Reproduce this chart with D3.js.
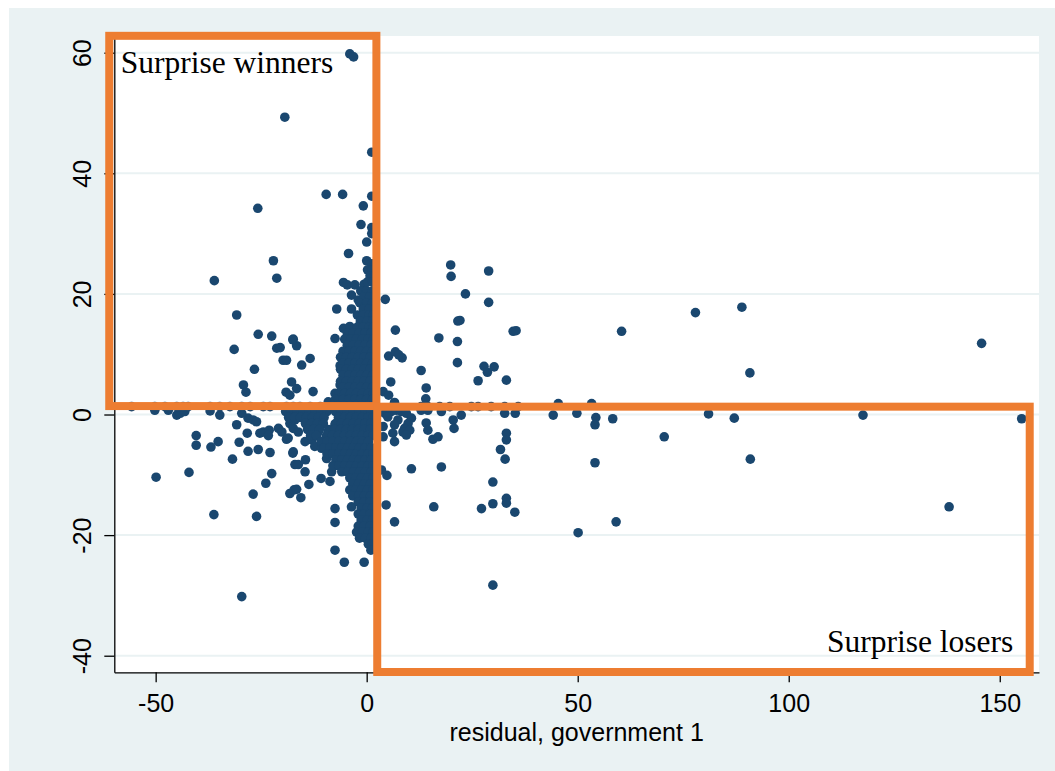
<!DOCTYPE html>
<html>
<head>
<meta charset="utf-8">
<script src="https://cdn.jsdelivr.net/npm/d3@7"></script>
<style>
    body { margin: 0; background: #fff; }
</style>
</head>
<body>
<div id="scatter"></div>
<script>

// ticks
var xTicks = [-50, 0, 50, 100, 150];
var yTicks = [-40, -20, 0, 20, 40, 60];

// scattered observations [residual gov 1, residual gov 2]
var scatterPts = [
    [-4.0,59.8],[-3.1,59.3],[-19.4,49.3],[1.2,43.5],[-9.6,36.5],[-5.7,36.5],[1.2,36.2],[-25.8,34.2],
    [-0.8,34.6],[-1.35,31.5],[1.2,31.0],[1.2,30.0],[0,28.6],[-4.3,26.7],[-22.1,25.5],[0,25.5],[1.2,25.0],
    [-21.3,22.6],[-36.1,22.2],[-5.5,21.9],[-4.6,21.5],[-0.6,21.6],[1.2,23.1],[-2.8,21.5],[-3.6,19.8],
    [-2.0,19.0],[-7.1,17.5],[-3.6,17.5],[-1.2,16.5],[0.8,16.8],[-5.5,14.3],[-4.0,14.6],[-2.8,13.7],
    [-7.5,12.6],[-17.4,12.5],[-16.6,11.4],[-15.4,8.2],[-13.4,9.3],[-16.6,4.3],[-12.7,3.8],[-9.1,2.1],
    [-6.3,8.1],[-4.7,9.6],[-7.5,3.5],[-5.9,3.8],[-6.3,4.9],
    [-30.8,16.5],[-25.7,13.3],[-22.5,13.0],[-21.3,11.0],[-20.5,11.1],[-17.5,12.4],[-19.8,9.0],[-19.0,9.0],
    [-31.4,10.8],[-26.6,7.5],[-29.2,4.9],[-28.6,3.7],[-17.8,5.4],[-19.1,3.7],[-18.2,3.2],
    [-30.8,-1.7],[-28.1,-0.6],[-26.9,-0.9],[-26.1,-1.2],[-34.8,-0.1],[-45.0,-0.1],[-44.2,0.2],[-43.1,0.5],
    [-50.2,0.7],[-47.0,0.7],[-37.1,0.6],[-29.6,0.2],[-28.3,-3.1],[-25.3,-3.1],[-24.5,-2.9],[-23.1,-2.6],
    [-23.3,-3.5],[-20.9,-2.3],[-20.1,-2.9],[-19.0,-4.1],[-18.2,-1.5],[-17.4,-2.3],[-40.4,-3.5],[-40.4,-5.1],
    [-36.9,-5.4],[-35.2,-4.5],[-30.2,-4.6],[-28.1,-6.1],[-25.7,-5.8],[-22.9,-6.3],[-31.8,-7.4],[-17.5,-6.4],
    [-17.0,-8.3],[-49.9,-10.4],[-42.1,-9.6],[-22.5,-9.8],[-23.9,-11.4],[-26.9,-13.2],[-18.2,-13.1],
    [-17.2,-12.5],[-36.2,-16.6],[-26.1,-16.9],[-29.6,-30.2],
    [-18.6,-3.9],[-17.4,-6.2],[-16.2,-8.3],[-14.5,-7.5],[-14.6,-9.5],[-13.7,-11.6],[-16.6,-12.4],
    [-15.6,-13.8],[-10.8,-10.6],[-8.7,-11.1],[-9.5,-7.3],[-8.3,-9.5],
    [-17.0,-0.9],[-15.4,-0.4],[-13.4,-1.2],[-11.8,-0.6],[-10.3,-1.5],[-16.2,-2.9],[-13.8,-2.3],
    [-11.5,-2.9],[-14.6,-4.5],[-13.0,-4.2],[-9.9,-4.2],[-12.3,-5.3],[-10.7,-5.6],[-8.3,-6.2],[-9.1,-2.9],
    [-7.5,-1.7],[-6.7,-3.4],[-5.9,-5.1],[-5.1,-7.3],[-4.0,-8.7],
    [-7.5,-15.6],[-7.5,-17.9],[-2.6,-13.5],[-3.6,-15.3],[-7.5,-22.5],[-5.3,-24.5],[-0.6,-24.5],
    [19.9,24.8],[20.0,22.9],[28.9,23.8],[4.4,19.1],[23.4,20.0],[28.9,18.6],[21.6,15.5],[22.1,15.6],
    [6.8,14.0],[34.7,13.8],[35.4,13.9],[17.1,12.7],[21.5,12.1],[5.2,9.7],[6.8,10.4],[8.4,9.4],[7.6,9.9],
    [21.5,8.6],[27.8,8.0],[28.6,7.0],[30.2,7.9],[12.9,7.3],[5.7,5.4],[26.4,5.6],[33.1,5.7],[14.1,4.4],
    [3.9,3.8],[5.2,3.2],[14.0,2.6],[6.6,2.0],
    [12.9,0.7],[14.5,0.7],[17.7,0.5],[22.4,-0.1],[20.5,-0.9],[20.7,-2.3],[14.1,-1.4],[14.5,-2.6],
    [15.7,-4.1],[16.9,-3.7],[32.7,0.2],[35.2,0.2],[44.2,-0.1],[33.1,-3.1],[33.1,-4.2],[31.7,-5.8],
    [32.8,-7.4],[10.6,-9.0],[17.7,-8.7],[4.8,-10.1],[3.5,-9.2],[29.9,-11.2],[4.6,-15.0],[15.9,-15.3],
    [27.2,-15.6],[29.9,-14.8],[33.1,-13.9],[33.1,-14.7],[35.1,-16.2],[6.6,-17.8],[29.9,-28.3],
    [4.3,0.2],[5.8,0.5],[7.0,0.7],[8.2,0.5],[9.4,0.2],[10.6,-0.6],[9.8,-1.5],[9.0,-2.3],[8.6,-2.9],
    [10.2,-2.6],[9.4,-3.4],[7.4,-0.9],[6.6,-1.7],[3.9,-2.0],[3.9,-3.7],[6.2,-3.1],[6.6,-4.5],[5.0,-0.4],
    [49.8,0.2],[54.3,-0.5],[54.1,-1.7],[58.3,-0.7],[70.5,-3.7],[81.0,0.1],[87.1,-0.6],[54.1,-8.0],
    [90.9,-7.4],[117.6,-0.1],[155.2,-0.7],[138.0,-15.3],[50.1,-19.6],[59.1,-17.8],[60.4,13.8],
    [77.9,16.9],[88.9,17.8],[90.8,6.9],[145.7,11.8],
    [45.4,1.8],[53.3,1.8]
];

// row of observations sitting just above zero (behind the orange line)
var rowY = 1.3;
var rowX = [-55.7,-50.2,-47.8,-45.0,-43.5,-42.3,-37.1,-34.8,-32.4,-29.6,-27.6,-24.5,-22.9,-19.0,-17.4,
    -15.8,-13.4,-11.0,12.9,14.5,17.3,19.7,24.8,26.4,29.5,32.7,35.9];

// dense core around x = 0: [y, [x values]]
var coreRows = [
    [24, [0.2, 1.3]],
    [23, [0.8]],
    [22, [0.2, 1.4]],
    [20.5, [-1.4, 0, 1.4]],
    [19.5, [-0.7, 0.7]],
    [18.5, [-1.6, 0, 1.4]],
    [17.5, [-0.8, 0.6]],
    [16.5, [-2.2, -0.8, 0.6, 1.6]],
    [15.5, [-1.5, 0, 1.4]],
    [14.5, [-2.2, -0.8, 0.6, 1.6]],
    [13.5, [-4.6, -3.2, -1.8, -0.4, 1.0]],
    [12.5, [-5.2, -3.8, -2.4, -1.0, 0.4, 1.6]],
    [11.5, [-4.6, -3.2, -1.8, -0.4, 1.0]],
    [10.5, [-5.6, -4.2, -2.8, -1.4, 0, 1.4]],
    [9.5, [-6.2, -4.8, -3.4, -2.0, -0.6, 0.8]],
    [8.5, [-5.6, -4.2, -2.8, -1.4, 0, 1.4]],
    [7.5, [-6.2, -4.8, -3.4, -2.0, -0.6, 0.8]],
    [6.5, [-5.6, -4.2, -2.8, -1.4, 0, 1.4]],
    [5.5, [-6.2, -4.8, -3.4, -2.0, -0.6, 0.8]],
    [4.5, [-5.6, -4.2, -2.8, -1.4, 0, 1.4]],
    [3.5, [-6.6, -5.2, -3.8, -2.4, -1.0, 0.4, 1.6]],
    [2.5, [-7.4, -5.6, -4.2, -2.8, -1.4, 0, 1.4]],
    [1.5, [-8.2, -6.8, -5.4, -4.0, -2.6, -1.2, 0.2, 1.5]],
    [0.5, [-19.2, -17.8, -16.4, -15.0, -13.6, -12.2, -10.8, -9.4, -7.4, -6.0, -4.6, -3.2, -1.8, -0.4, 1.0]],
    [-0.5, [-18.5, -17.1, -15.7, -14.3, -12.9, -11.5, -10.1, -6.7, -5.3, -3.9, -2.5, -1.1, 0.3, 1.5]],
    [-1.5, [-14.5, -13.1, -11.7, -10.3, -7.4, -6.0, -4.6, -3.2, -1.8, -0.4, 1.0]],
    [-2.5, [-14.0, -12.6, -11.2, -9.0, -7.6, -6.2, -4.8, -3.4, -2.0, -0.6, 0.8]],
    [-3.5, [-13.3, -11.9, -9.5, -8.1, -6.7, -5.3, -3.9, -2.5, -1.1, 0.3, 1.5]],
    [-4.5, [-10.8, -9.4, -8.0, -6.6, -5.2, -3.8, -2.4, -1.0, 0.4]],
    [-5.5, [-10.1, -8.7, -7.3, -5.9, -4.5, -3.1, -1.7, -0.3, 1.1]],
    [-6.5, [-9.4, -8.0, -6.6, -5.2, -3.8, -2.4, -1.0, 0.4, 1.5]],
    [-7.5, [-7.3, -5.9, -4.5, -3.1, -1.7, -0.3, 1.1]],
    [-8.5, [-8.0, -6.6, -5.2, -3.8, -2.4, -1.0, 0.4, 1.5]],
    [-9.5, [-5.9, -4.5, -3.1, -1.7, -0.3, 1.1]],
    [-10.5, [-4.0, -2.6, -1.2, 0.2, 1.5]],
    [-11.5, [-3.3, -1.9, -0.5, 0.9]],
    [-12.5, [-4.0, -2.6, -1.2, 0.2, 1.5]],
    [-13.5, [-3.3, -1.9, -0.5, 0.9]],
    [-14.5, [-2.0, -0.6, 0.8]],
    [-15.5, [-1.3, 0.1, 1.4]],
    [-16.5, [-2.0, -0.6, 0.8]],
    [-17.5, [-1.3, 0.1, 1.4]],
    [-18.5, [-2.0, -0.6, 0.8]],
    [-19.5, [-2.4, -1.0, 0.4, 1.5]],
    [-20.5, [-1.7, -0.3, 1.1]],
    [-21.5, [0.4, 1.3]],
    [-22.5, [1.0]]
];

// highlighted quadrants, in data units
var boxes = [
    {x0: -61.0, x1: 2.3, y0: 1.4, y1: 62.8, label: "Surprise winners"},
    {x0: 2.5, x1: 157.1, y0: -42.7, y1: 1.3, label: "Surprise losers"}
];

var xTitle = "residual, government 1";

var width = 1055, height = 771;
var plot = {left: 114.3, right: 1039, top: 36, bottom: 672.3};

var svg = d3.select("#scatter")
    .append("svg")
    .attr("width", width)
    .attr("height", height);

// outer (graph region) background
svg.append("rect")
    .attr("x", 9).attr("y", 8)
    .attr("width", width - 9).attr("height", height - 8)
    .attr("fill", "#eaf2f3");

svg.append("rect")
    .attr("x", plot.left).attr("y", plot.top)
    .attr("width", plot.right - plot.left).attr("height", plot.bottom - plot.top)
    .attr("fill", "#fff");

var xScale = d3.scaleLinear()
    .domain([-59.8, 159.3])
    .range([plot.left, plot.right]);

var yScale = d3.scaleLinear()
    .domain([-42.75, 62.77])
    .range([plot.bottom, plot.top]);

// horizontal grid
svg.append("g")
    .selectAll("line")
    .data(yTicks)
    .enter()
    .append("line")
    .attr("x1", plot.left)
    .attr("x2", plot.right)
    .attr("y1", function(d){ return yScale(d); })
    .attr("y2", function(d){ return yScale(d); })
    .attr("stroke", "#eaf2f3")
    .attr("stroke-width", 2);

// points
var pts = scatterPts.slice();
rowX.forEach(function(x){ pts.push([x, rowY]); });
coreRows.forEach(function(r){
    r[1].forEach(function(x){ pts.push([x, r[0]]); });
});

svg.append("g")
    .attr("class", "points-container")
    .selectAll(".dot")
    .data(pts)
    .enter()
    .append("circle")
    .attr("class", "dot")
    .attr("cx", function(d){ return xScale(d[0]); })
    .attr("cy", function(d){ return yScale(d[1]); })
    .attr("r", 4.8)
    .style("fill", "#1a476f");

// plain hyphen minus, like the original
var fmt = function(d){ return String(d); };

// axes
var xAxis = svg.append("g")
    .attr("transform", "translate(0," + plot.bottom + ")")
    .call(d3.axisBottom(xScale)
        .tickValues(xTicks)
        .tickSize(10)
        .tickSizeOuter(0)
        .tickFormat(fmt));

xAxis.selectAll("text")
    .attr("y", 39.7)
    .attr("dy", null)
    .style("font-family", "'Liberation Sans', Arial, sans-serif")
    .style("font-size", "25px")
    .attr("fill", "#000");

var yAxis = svg.append("g")
    .attr("transform", "translate(" + plot.left + ",0)")
    .call(d3.axisLeft(yScale)
        .tickValues(yTicks)
        .tickSize(10)
        .tickSizeOuter(0)
        .tickFormat(fmt));

yAxis.selectAll("text")
    .attr("x", null)
    .attr("dy", null)
    .attr("transform", "translate(-23.3,0) rotate(-90)")
    .attr("text-anchor", "middle")
    .style("font-family", "'Liberation Sans', Arial, sans-serif")
    .style("font-size", "25px")
    .attr("fill", "#000");

svg.selectAll(".domain, .tick line")
    .attr("stroke", "#000")
    .attr("stroke-width", 1.3);

// x title
svg.append("text")
    .attr("x", (plot.left + plot.right) / 2)
    .attr("y", 741)
    .attr("text-anchor", "middle")
    .style("font-family", "'Liberation Sans', Arial, sans-serif")
    .style("font-size", "25px")
    .text(xTitle);

// orange quadrant boxes
svg.append("g")
    .selectAll("rect")
    .data(boxes)
    .enter()
    .append("rect")
    .attr("x", function(d){ return xScale(d.x0); })
    .attr("y", function(d){ return yScale(d.y1); })
    .attr("width", function(d){ return xScale(d.x1) - xScale(d.x0); })
    .attr("height", function(d){ return yScale(d.y0) - yScale(d.y1); })
    .attr("fill", "none")
    .attr("stroke", "#ed7d31")
    .attr("stroke-width", 8);

svg.append("text")
    .attr("x", xScale(boxes[0].x0) + 11.5)
    .attr("y", yScale(boxes[0].y1) + 37.5)
    .style("font-family", "'Liberation Serif', 'Times New Roman', serif")
    .style("font-size", "31.5px")
    .text(boxes[0].label);

svg.append("text")
    .attr("x", xScale(boxes[1].x1) - 16.4)
    .attr("y", yScale(boxes[1].y0) - 20.3)
    .attr("text-anchor", "end")
    .style("font-family", "'Liberation Serif', 'Times New Roman', serif")
    .style("font-size", "31.5px")
    .text(boxes[1].label);

</script>
</body>
</html>
